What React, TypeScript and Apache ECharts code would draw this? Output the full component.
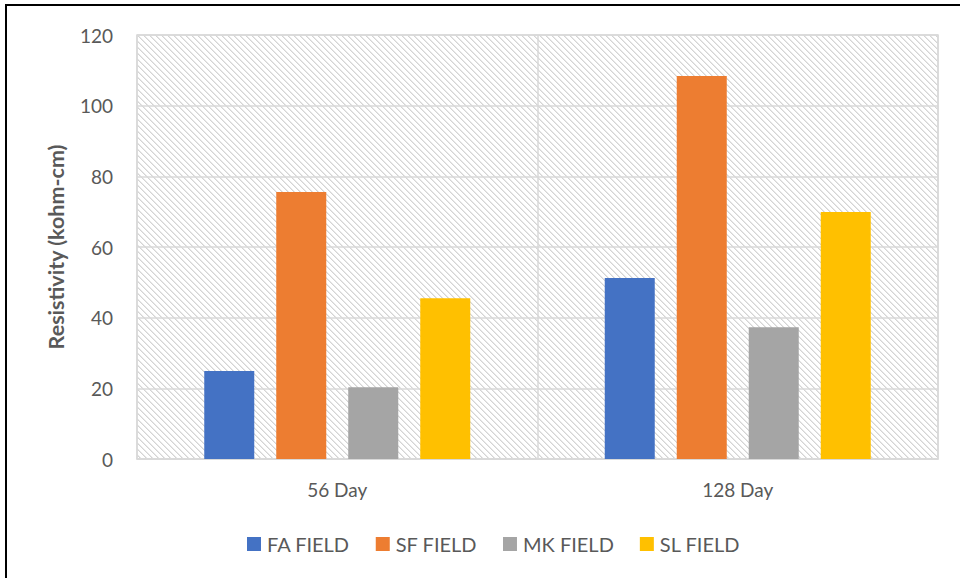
import React, { useEffect, useRef } from "react";
import * as echarts from "echarts";

const categories = ["56 Day", "128 Day"];
const seriesNames = ["FA FIELD", "SF FIELD", "MK FIELD", "SL FIELD"];
const faField = [24.9, 51.2];
const sfField = [75.6, 108.4];
const mkField = [20.3, 37.3];
const slField = [45.5, 69.9];
const seriesColors = ["#4472C4", "#ED7D31", "#A5A5A5", "#FFC000"];
const yTicks = { min: 0, max: 120, interval: 20 };

function makeHatch(): HTMLCanvasElement {
  const c = document.createElement("canvas");
  const n = 6;
  c.width = n;
  c.height = n;
  const ctx = c.getContext("2d")!;
  ctx.fillStyle = "#ffffff";
  ctx.fillRect(0, 0, n, n);
  for (let y = 0; y < n; y++) {
    for (let x = 0; x < n; x++) {
      const d = (((x - y) % n) + n) % n;
      if (d < 2) {
        ctx.fillStyle = (x + y) % 2 === 0 ? "#d4d4d4" : "#e8e8e8";
        ctx.fillRect(x, y, 1, 1);
      }
    }
  }
  return c;
}

export default function App() {
  const ref = useRef<HTMLDivElement>(null);
  useEffect(() => {
    if (!ref.current) return;
    const chart = echarts.init(ref.current, undefined, { renderer: "svg" });
    const font = "Lato, 'Liberation Sans', sans-serif";
    const data = [faField, sfField, mkField, slField];
    chart.setOption({
      animation: false,
      backgroundColor: "#ffffff",
      textStyle: { fontFamily: font },
      grid: {
        left: 137,
        right: 22,
        top: 35,
        bottom: 119,
        show: true,
        backgroundColor: { image: makeHatch(), repeat: "repeat" } as any,
        borderColor: "#d9d9d9",
        borderWidth: 1.5,
      },
      legend: {
        data: seriesNames,
        top: 529,
        left: 242,
        itemWidth: 14,
        itemHeight: 14,
        itemGap: 26,
        icon: "rect",
        textStyle: { fontSize: 20, color: "#595959", fontFamily: font, padding: [0, 0, 0, 1] },
      },
      xAxis: {
        type: "category",
        data: categories,
        axisLine: { lineStyle: { color: "#d9d9d9", width: 1.5 } },
        axisTick: { show: false },
        splitLine: { show: true, lineStyle: { color: "#d9d9d9", width: 1.5 } },
        axisLabel: { fontSize: 19, color: "#595959", margin: 21, fontFamily: font },
      },
      yAxis: {
        type: "value",
        min: yTicks.min,
        max: yTicks.max,
        interval: yTicks.interval,
        name: "Resistivity (kohm-cm)",
        nameLocation: "middle",
        nameGap: 70,
        nameTextStyle: { fontSize: 21.5, fontWeight: "bold", color: "#595959", fontFamily: font },
        axisLine: { show: false },
        axisTick: { show: false },
        splitLine: { lineStyle: { color: "#d9d9d9", width: 1.5 } },
        axisLabel: { fontSize: 19, color: "#595959", margin: 24, fontFamily: font },
      },
      series: seriesNames.map((name, i) => ({
        name,
        type: "bar",
        data: data[i],
        barWidth: 50,
        barGap: "44%",
        itemStyle: { color: seriesColors[i] },
      })),
      graphic: [
        {
          type: "rect",
          shape: { x: 6, y: 5, width: 1000, height: 1000 },
          style: { fill: "none", stroke: "#000000", lineWidth: 2 },
          silent: true,
          z: 100,
        },
      ],
    });
    return () => chart.dispose();
  }, []);
  return (
    <div
      ref={ref}
      style={{ position: "fixed", left: 0, top: 0, width: 960, height: 578 }}
    />
  );
}
